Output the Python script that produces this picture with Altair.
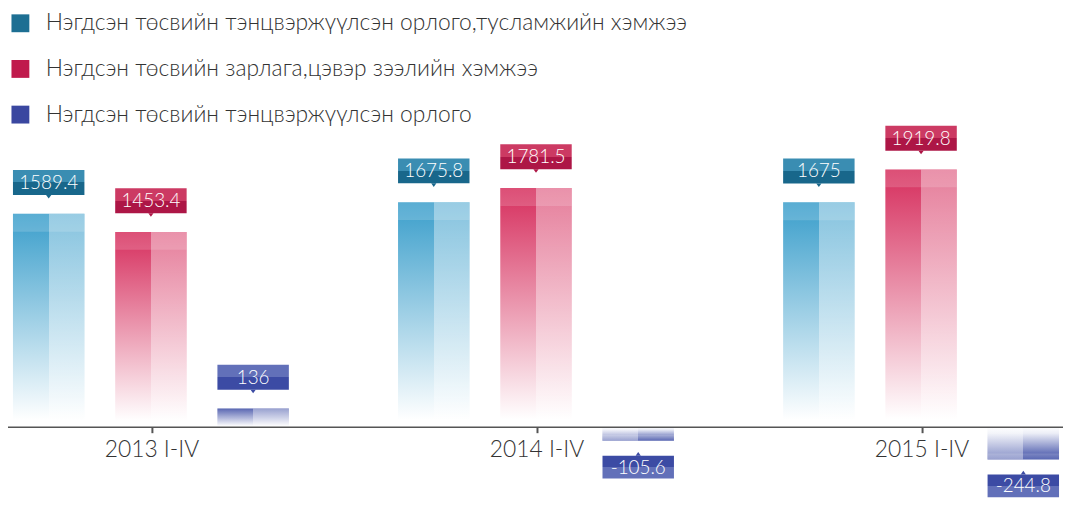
import altair as alt
import pandas as pd

groups = ["2013 I-IV", "2014 I-IV", "2015 I-IV"]
series_names = [
    "Нэгдсэн төсвийн тэнцвэржүүлсэн орлого,тусламжийн хэмжээ",
    "Нэгдсэн төсвийн зарлага,цэвэр зээлийн хэмжээ",
    "Нэгдсэн төсвийн тэнцвэржүүлсэн орлого",
]
income_support = [1589.4, 1675.8, 1675]
expenditure = [1453.4, 1781.5, 1919.8]
balance = [136, -105.6, -244.8]

legend_colors = ["#1d6f93", "#c01a4c", "#3a47a0"]
bar_top = ["#3a9ecb", "#d62e5d", "#3a4aa4"]
label_light = ["#3a8db2", "#cc3a63", "#6270b9"]
label_dark = ["#18678b", "#ad1646", "#3c4ba4"]

rows = []
for sname, vals in zip(series_names, [income_support, expenditure, balance]):
    for g, v in zip(groups, vals):
        rows.append({"group": g, "series": sname, "value": v, "label": str(v)})
df = pd.DataFrame(rows)

FONT = "Lato"

X = alt.X(
    "group:N",
    scale=alt.Scale(domain=groups, range=[-49, 1115], paddingInner=0, paddingOuter=0),
    axis=alt.Axis(
        title=None, offset=-81, domainColor="#555555", domainWidth=1.5,
        tickColor="#555555", tickWidth=2, tickSize=6, bandPosition=0.5,
        labelFont=FONT, labelFontSize=23, labelFontWeight=300, labelColor="#333333",
        labelPadding=6, labelAngle=0, zindex=1,
    ),
)
XO = alt.XOffset(
    "series:N",
    scale=alt.Scale(domain=series_names, range=[54, 332], paddingInner=0.301, paddingOuter=0),
)
Y = alt.Y("value:Q", scale=alt.Scale(domain=[-600, 3111], nice=False, zero=False), axis=None)


def grad(stops, horizontal=False):
    if horizontal:
        return alt.LinearGradient(
            gradient="linear", x1=0, x2=1, y1=0, y2=0,
            stops=[alt.GradientStop(color=c, offset=o) for o, c in stops],
        )
    return alt.LinearGradient(
        gradient="linear", x1=0, x2=0, y1=0, y2=1,
        stops=[alt.GradientStop(color=c, offset=o) for o, c in stops],
    )


T = "rgba(255,255,255,0)"
W = "rgba(255,255,255,0.38)"

layers = []
for i, sname in enumerate(series_names):
    for positive in (True, False):
        sub = df[(df.series == sname) & ((df.value >= 0) == positive)]
        if sub.empty:
            continue
        base = alt.Chart(sub).encode(x=X, xOffset=XO, y=Y)
        if positive:
            main = grad([(0, bar_top[i]), (0.97, "#ffffff"), (1, "#ffffff")])
            half = grad([(0, T), (0.5, T), (0.5, W), (1, W)], horizontal=True)
            strip_y2 = 18
            box_y, box_y2, tri_off, txt_dy = -44, -19, -19, -31
            tri = "M-0.5,0L0.5,0L0,0.7Z"
            lab = grad([(0, label_light[i]), (0.5, label_light[i]), (0.5, label_dark[i]), (1, label_dark[i])])
        else:
            main = grad([(0, "#ffffff"), (0.2, "#eceef7"), (1, bar_top[i])])
            half = grad([(0, W), (0.5, W), (0.5, T), (1, T)], horizontal=True)
            strip_y2 = -6
            box_y, box_y2, tri_off, txt_dy = 15, 38, 15, 27
            tri = "M-0.5,0L0.5,0L0,-0.7Z"
            lab = grad([(0, label_dark[i]), (0.5, label_dark[i]), (0.5, label_light[i]), (1, label_light[i])])

        layers.append(base.mark_bar(fill=main, strokeWidth=0).encode(y2=alt.datum(0)))
        layers.append(base.mark_bar(fill=half, strokeWidth=0).encode(y2=alt.datum(0)))
        layers.append(base.mark_rect(fill="#ffffff", opacity=0.16, y2Offset=strip_y2).encode(y2="value:Q"))
        layers.append(base.mark_rect(fill=lab, yOffset=box_y, y2Offset=box_y2).encode(y2="value:Q"))
        layers.append(base.mark_point(shape=tri, filled=True, size=110, fill=label_dark[i], opacity=1,
                                      strokeWidth=0, yOffset=tri_off))
        layers.append(base.mark_text(color="#ffffff", font=FONT, fontSize=19, fontWeight=300,
                                     baseline="middle", align="center", dy=txt_dy).encode(text="label:N"))

legend_layer = alt.Chart(df).mark_square(opacity=0).encode(
    x=X, xOffset=XO, y=Y,
    color=alt.Color(
        "series:N",
        scale=alt.Scale(domain=series_names, range=legend_colors),
        legend=alt.Legend(
            orient="none", legendX=1, legendY=2, title=None, symbolType="square",
            symbolSize=324, symbolStrokeWidth=0, symbolOpacity=1, labelFont=FONT,
            labelFontSize=23, labelFontWeight=300, labelColor="#333333", labelLimit=0,
            labelOffset=14, rowPadding=22, padding=0, direction="vertical",
        ),
    ),
)

chart = alt.layer(legend_layer, *layers).properties(
    width=1063, height=501, autosize=alt.AutoSizeParams(type="none"), padding=0,
    background="#ffffff",
).configure_view(stroke=None)

chart.save("out.html", embed_options={"renderer": "svg", "actions": False})
